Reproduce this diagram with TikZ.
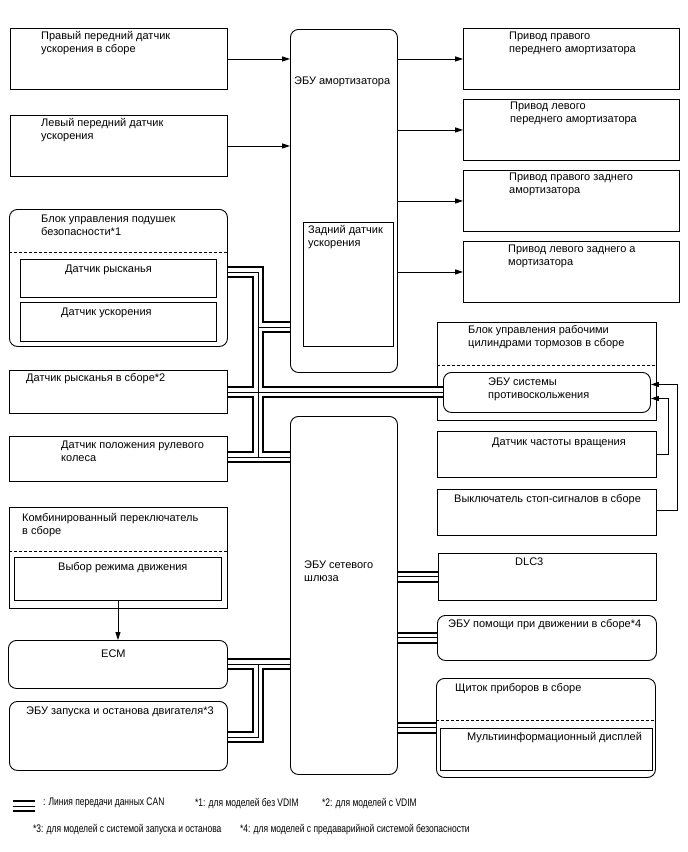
\documentclass[tikz,border=0pt]{standalone}
\usepackage{fontspec}
\setmainfont{Liberation Sans}
\newfontfamily\legfont[FakeStretch=0.77]{Liberation Sans}
\usetikzlibrary{arrows.meta, positioning}
\newcommand\boxfont{\fontsize{11}{13}\selectfont}

\begin{document}
\begin{tikzpicture}[x=1pt, y=-1pt,
    box/.style={draw, line width=0.9pt, inner sep=0pt, anchor=north west},
    rbox/.style={box, rounded corners=8pt},
    lbl/.style={inner sep=0pt, align=left, font=\boxfont},
    leg/.style={inner sep=0pt, anchor=north west, font=\legfont\fontsize{11}{13}\selectfont},
    sig/.style={line width=0.9pt, -{Triangle[length=8pt,width=5pt]}},
    sep/.style={line width=0.8pt, dash pattern=on 3pt off 2pt}]
    \useasboundingbox (0,0) rectangle (688,852);

    \node[box, minimum width=217, minimum height=61] (rfs) at (10,28) {};
    \node[box, minimum width=217, minimum height=61] (lfs) at (10,115) {};
    \node[rbox, minimum width=218, minimum height=137] (airbag) at (9,209) {};
    \node[box, minimum width=196, minimum height=38] (yaw) at (20,259) {};
    \node[box, minimum width=196, minimum height=39] (acc) at (20,302) {};
    \node[box, minimum width=218, minimum height=43] (yawas) at (9,370) {};
    \node[box, minimum width=218, minimum height=45] (swa) at (9,436) {};
    \node[box, minimum width=218, minimum height=101] (combo) at (9,507) {};
    \node[box, minimum width=207, minimum height=43] (mode) at (14,557) {};
    \node[rbox, minimum width=219, minimum height=48] (ecm) at (8,640) {};
    \node[rbox, minimum width=218, minimum height=69] (stst) at (9,701) {};

    \node[rbox, minimum width=107, minimum height=343] (amort) at (290,29) {};
    \node[box, minimum width=90, minimum height=124] (rear) at (303,222) {};
    \node[rbox, minimum width=107, minimum height=358] (gw) at (290,416) {};

    \node[box, minimum width=216, minimum height=61] (act1) at (463,28) {};
    \node[box, minimum width=216, minimum height=61] (act2) at (463,99) {};
    \node[box, minimum width=216, minimum height=61] (act3) at (463,170) {};
    \node[box, minimum width=216, minimum height=61] (act4) at (463,241) {};
    \node[box, minimum width=219, minimum height=98] (brake) at (437,322) {};
    \node[rbox, minimum width=207, minimum height=40] (absecu) at (443,372) {};
    \node[box, minimum width=219, minimum height=46] (spd) at (437,431) {};
    \node[box, minimum width=219, minimum height=46] (stop) at (437,489) {};
    \node[box, minimum width=218, minimum height=47] (dlc) at (438,553) {};
    \node[rbox, minimum width=219, minimum height=45] (assist) at (437,615) {};
    \node[rbox, minimum width=219, minimum height=99] (meter) at (436,678) {};
    \node[box, minimum width=212, minimum height=42] (mfd) at (440,728) {};

    \draw[sep] ([yshift=-43pt]airbag.north west) -- ([yshift=-43pt]airbag.north east);
    \draw[sep] ([yshift=-44pt]combo.north west) -- ([yshift=-44pt]combo.north east);
    \draw[sep] ([yshift=-43pt]brake.north west) -- ([yshift=-43pt]brake.north east);
    \draw[sep] ([yshift=-42pt]meter.north west) -- ([yshift=-42pt]meter.north east);

    \node[lbl, below right=3pt and 31pt of rfs.north west] (rfsT) {Правый передний датчик\\ускорения в сборе};
    \node[lbl, below right=3pt and 31pt of lfs.north west] (lfsT) {Левый передний датчик\\ускорения};
    \node[lbl, below right=6pt and 32pt of airbag.north west] (airbagT) {Блок управления подушек\\безопасности*1};
    \node[lbl, below right=6pt and 45pt of yaw.north west] (yawT) {Датчик рысканья};
    \node[lbl, below right=6pt and 41pt of acc.north west] (accT) {Датчик ускорения};
    \node[lbl, below right=3pt and 17pt of yawas.north west] (yawasT) {Датчик рысканья в сборе*2};
    \node[lbl, below right=5pt and 52pt of swa.north west] (swaT) {Датчик положения рулевого\\колеса};
    \node[lbl, below right=6pt and 13pt of combo.north west] (comboT) {Комбинированный переключатель\\в сборе};
    \node[lbl, below right=5pt and 44pt of mode.north west] (modeT) {Выбор режима движения};
    \node[lbl, below right=10pt and 93pt of ecm.north west] (ecmT) {ECM};
    \node[lbl, below right=6pt and 17pt of stst.north west] (ststT) {ЭБУ запуска и останова двигателя*3};
    \node[lbl, below right=48pt and 4pt of amort.north west] (amortT) {ЭБУ амортизатора};
    \node[lbl, below right=3pt and 5pt of rear.north west] (rearT) {Задний датчик\\ускорения};
    \node[lbl, below right=145pt and 14pt of gw.north west] (gwT) {ЭБУ сетевого\\шлюза};
    \node[lbl, below right=4pt and 46pt of act1.north west] (act1T) {Привод правого\\переднего амортизатора};
    \node[lbl, below right=3pt and 47pt of act2.north west] (act2T) {Привод левого\\переднего амортизатора};
    \node[lbl, below right=3pt and 46pt of act3.north west] (act3T) {Привод правого заднего\\амортизатора};
    \node[lbl, below right=4pt and 45pt of act4.north west] (act4T) {Привод левого заднего а\\мортизатора};
    \node[lbl, below right=3pt and 31pt of brake.north west] (brakeT) {Блок управления рабочими\\цилиндрами тормозов в сборе};
    \node[lbl, below right=6pt and 45pt of absecu.north west] (absecuT) {ЭБУ системы\\противоскольжения};
    \node[lbl, below right=7pt and 55pt of spd.north west] (spdT) {Датчик частоты вращения};
    \node[lbl, below right=5pt and 17pt of stop.north west] (stopT) {Выключатель стоп-сигналов в сборе};
    \node[lbl, below right=5pt and 77pt of dlc.north west] (dlcT) {DLC3};
    \node[lbl, below right=4pt and 11pt of assist.north west] (assistT) {ЭБУ помощи при движении в сборе*4};
    \node[lbl, below right=5pt and 19pt of meter.north west] (meterT) {Щиток приборов в сборе};
    \node[lbl, below right=4pt and 27pt of mfd.north west] (mfdT) {Мультиинформационный дисплей};

    \draw[sig] (rfs.east) -- (rfs.east -| amort.west);
    \draw[sig] (lfs.east) -- (lfs.east -| amort.west);
    \draw[sig] (act1.west -| amort.east) -- (act1.west);
    \draw[sig] (act2.west -| amort.east) -- (act2.west);
    \draw[sig] (act3.west -| amort.east) -- (act3.west);
    \draw[sig] (act4.west -| amort.east) -- (act4.west);
    \draw[sig] (mode.south) -- (mode.south |- ecm.north);
    \draw[sig] (spd.east) -- ++(12,0) |- ([yshift=-6pt]absecu.east);
    \draw[sig] ([yshift=2pt]stop.east) -- ++(21,0) |- ([yshift=8pt]absecu.east);

    \coordinate (j1) at (258,272);
    \coordinate (j2) at (258,327);
    \coordinate (j3) at (258,392);
    \coordinate (j4) at (258,457);
    \coordinate (j5) at (258,664);
    \coordinate (j6) at (258,737);
    \coordinate (lgA) at (13,806);
    \coordinate (lgB) at (35,806);

    \foreach \buswd/\buscol in {11.5pt/black, 8pt/white, 1pt/black}
        \draw[line width=\buswd, \buscol] (j1 -| airbag.east) -- (j1) -- (j4)
            (j2) -- (j2 -| amort.west)
            (j3 -| yawas.east) -- (j3 -| absecu.west)
            (j4 -| swa.east) -- (j4 -| gw.west)
            (j5 -| ecm.east) -- (j5 -| gw.west)
            (j5) -- (j6) -- (j6 -| stst.east)
            (gw.east |- dlc.west) -- (dlc.west)
            (gw.east |- assist.west) -- (assist.west)
            (gw.east |- meter.west) -- (meter.west)
            (lgA) -- (lgB);

    \node[leg] (lg1) at (43,798) {: Линия передачи данных CAN};
    \node[leg] (lg2) at (195,798) {*1: для моделей без VDIM};
    \node[leg] (lg3) at (322,798) {*2: для моделей с VDIM};
    \node[leg] (lg4) at (33,824) {*3: для моделей с системой запуска и останова};
    \node[leg] (lg5) at (240,824) {*4: для моделей с предаварийной системой безопасности};
\end{tikzpicture}
\end{document}
